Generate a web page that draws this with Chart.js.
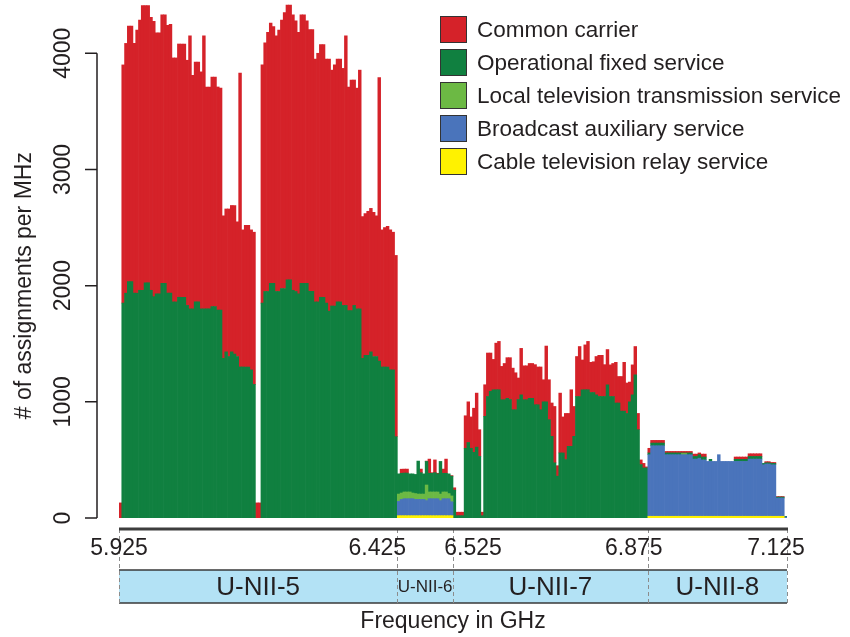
<!DOCTYPE html>
<html>
<head>
<meta charset="utf-8">
<script src="https://cdn.jsdelivr.net/npm/chart.js@4.4.1/dist/chart.umd.min.js"></script>
<style>
    html, body { margin: 0; padding: 0; background: #ffffff; }
</style>
</head>
<body>
<canvas id="chart" width="850" height="637"></canvas>
<script>
// --------------------
// Data: assignments per MHz in 5 MHz bins (5925 .. 7125 MHz)
// --------------------
const BIN_MHZ = 5;
const binStartsMHz = Array.from({ length: 240 }, (_, i) => 5925 + BIN_MHZ * i);

const bandNames = ["U-NII-5", "U-NII-6", "U-NII-7", "U-NII-8"];
const bandEdgesMHz = [5925, 6425, 6525, 6875, 7125];
const yTickValues = [0, 1000, 2000, 3000, 4000];

const seriesNames = [
    "Cable television relay service",
    "Broadcast auxiliary service",
    "Local television transmission service",
    "Operational fixed service",
    "Common carrier"
];
const seriesColors = ["#fff200", "#4a74bb", "#6cb944", "#108040", "#d52229"];

const cableRelay = [
    0, 0, 0, 0, 0, 0, 0, 0, 0, 0, 0, 0, 0, 0, 0, 0, 0, 0, 0, 0,
    0, 0, 0, 0, 0, 0, 0, 0, 0, 0, 0, 0, 0, 0, 0, 0, 0, 0, 0, 0,
    0, 0, 0, 0, 0, 0, 0, 0, 0, 0, 0, 0, 0, 0, 0, 0, 0, 0, 0, 0,
    0, 0, 0, 0, 0, 0, 0, 0, 0, 0, 0, 0, 0, 0, 0, 0, 0, 0, 0, 0,
    0, 0, 0, 0, 0, 0, 0, 0, 0, 0, 0, 0, 0, 0, 0, 0, 0, 0, 0, 0,
    20, 20, 20, 20, 20, 20, 20, 20, 20, 20, 20, 20, 20, 20, 20, 20, 20, 20, 20, 20,
    0, 0, 0, 0, 0, 0, 0, 0, 0, 0, 0, 0, 0, 0, 0, 0, 0, 0, 0, 0,
    0, 0, 0, 0, 0, 0, 0, 0, 0, 0, 0, 0, 0, 0, 0, 0, 0, 0, 0, 0,
    0, 0, 0, 0, 0, 0, 0, 0, 0, 0, 0, 0, 0, 0, 0, 0, 0, 0, 0, 0,
    0, 0, 0, 0, 0, 0, 0, 0, 0, 0, 15, 15, 15, 15, 15, 15, 15, 15, 15, 15,
    15, 15, 15, 15, 15, 15, 15, 15, 15, 15, 15, 15, 15, 15, 15, 15, 15, 15, 15, 15,
    15, 15, 15, 15, 15, 15, 15, 15, 15, 15, 15, 15, 15, 15, 15, 15, 15, 15, 15, 0
];

const broadcastAux = [
    0, 0, 0, 0, 0, 0, 0, 0, 0, 0, 0, 0, 0, 0, 0, 0, 0, 0, 0, 0,
    0, 0, 0, 0, 0, 0, 0, 0, 0, 0, 0, 0, 0, 0, 0, 0, 0, 0, 0, 0,
    0, 0, 0, 0, 0, 0, 0, 0, 0, 0, 0, 0, 0, 0, 0, 0, 0, 0, 0, 0,
    0, 0, 0, 0, 0, 0, 0, 0, 0, 0, 0, 0, 0, 0, 0, 0, 0, 0, 0, 0,
    0, 0, 0, 0, 0, 0, 0, 0, 0, 0, 0, 0, 0, 0, 0, 0, 0, 0, 0, 0,
    123, 140, 146, 146, 146, 146, 140, 140, 140, 140, 130, 146, 146, 146, 146, 130, 146, 146, 146, 120,
    0, 0, 0, 0, 0, 0, 0, 0, 0, 0, 0, 0, 0, 0, 0, 0, 0, 0, 0, 0,
    0, 0, 0, 0, 0, 0, 0, 0, 0, 0, 0, 0, 0, 0, 0, 0, 0, 0, 0, 0,
    0, 0, 0, 0, 0, 0, 0, 0, 0, 0, 0, 0, 0, 0, 0, 0, 0, 0, 0, 0,
    0, 0, 0, 0, 0, 0, 0, 0, 0, 0, 530, 607, 607, 607, 607, 607, 530, 530, 530, 530,
    530, 530, 530, 530, 530, 530, 492, 492, 500, 485, 485, 472, 472, 472, 472, 530, 472, 472, 472, 472,
    472, 472, 472, 472, 472, 472, 492, 492, 492, 492, 492, 443, 450, 450, 443, 443, 157, 157, 157, 8
];

const localTv = [
    0, 0, 0, 0, 0, 0, 0, 0, 0, 0, 0, 0, 0, 0, 0, 0, 0, 0, 0, 0,
    0, 0, 0, 0, 0, 0, 0, 0, 0, 0, 0, 0, 0, 0, 0, 0, 0, 0, 0, 0,
    0, 0, 0, 0, 0, 0, 0, 0, 0, 0, 0, 0, 0, 0, 0, 0, 0, 0, 0, 0,
    0, 0, 0, 0, 0, 0, 0, 0, 0, 0, 0, 0, 0, 0, 0, 0, 0, 0, 0, 0,
    0, 0, 0, 0, 0, 0, 0, 0, 0, 0, 0, 0, 0, 0, 0, 0, 0, 0, 0, 0,
    63, 55, 58, 58, 58, 49, 50, 46, 46, 46, 134, 58, 58, 58, 58, 56, 58, 58, 44, 50,
    0, 0, 0, 0, 0, 0, 0, 0, 0, 0, 0, 0, 0, 0, 0, 0, 0, 0, 0, 0,
    0, 0, 0, 0, 0, 0, 0, 0, 0, 0, 0, 0, 0, 0, 0, 0, 0, 0, 0, 0,
    0, 0, 0, 0, 0, 0, 0, 0, 0, 0, 0, 0, 0, 0, 0, 0, 0, 0, 0, 0,
    0, 0, 0, 0, 0, 0, 0, 0, 0, 0, 0, 0, 0, 0, 0, 0, 0, 0, 0, 0,
    0, 0, 10, 10, 0, 0, 0, 0, 0, 0, 0, 0, 0, 0, 0, 0, 0, 0, 0, 0,
    0, 0, 0, 0, 0, 0, 0, 0, 0, 0, 0, 0, 0, 0, 0, 0, 0, 0, 0, 0
];

const fixedService = [
    0, 1850, 1935, 2035, 2035, 1935, 1935, 1960, 1960, 2025, 2025, 1960, 1905, 1930, 1930, 2020, 2020, 1935, 1935, 1860,
    1860, 1900, 1900, 1900, 1830, 1800, 1800, 1860, 1860, 1800, 1800, 1800, 1800, 1820, 1820, 1790, 1790, 1375, 1430, 1390,
    1430, 1410, 1390, 1300, 1300, 1300, 1300, 1275, 1150, 0, 0, 1850, 1950, 1950, 2020, 2020, 1950, 1950, 1975, 1975,
    2050, 2050, 1960, 1950, 1930, 2020, 2020, 2020, 1950, 1950, 1860, 1860, 1900, 1900, 1850, 1780, 1825, 1825, 1860, 1860,
    1830, 1830, 1785, 1785, 1830, 1800, 1800, 1375, 1400, 1400, 1430, 1390, 1390, 1350, 1300, 1300, 1300, 1275, 1275, 700,
    174, 170, 163, 163, 156, 165, 165, 284, 184, 174, 203, 161, 161, 166, 156, 281, 161, 161, 170, 170,
    240, 20, 20, 20, 600, 650, 600, 565, 610, 530, 20, 875, 1046, 1090, 1104, 1104, 1104, 1018, 1018, 1030,
    1020, 932, 932, 1020, 1060, 1018, 1018, 1030, 1030, 975, 975, 932, 1000, 1000, 846, 703, 475, 360, 560, 560,
    503, 617, 617, 703, 1046, 1046, 1104, 1104, 1104, 1080, 1080, 1060, 1046, 1046, 1046, 1147, 1046, 1046, 990, 990,
    920, 920, 900, 1000, 1060, 1233, 760, 460, 431, 431, 15, 23, 23, 23, 23, 23, 15, 15, 15, 15,
    15, 15, 5, 5, 15, 15, 23, 23, 30, 25, 25, 0, 18, 0, 0, 0, 0, 0, 0, 0,
    0, 18, 18, 18, 18, 18, 23, 23, 23, 23, 23, 12, 10, 10, 12, 12, 8, 8, 8, 6
];

const commonCarrier = [
    130, 2050, 2150, 2200, 2200, 2150, 2265, 2325, 2450, 2385, 2385, 2350, 2370, 2245, 2245, 2310, 2310, 2305, 2315, 2100,
    2100, 2180, 2180, 2180, 2110, 2350, 2010, 2065, 2065, 2040, 2350, 1910, 1910, 1975, 1975, 1920, 1910, 1225, 1230, 1270,
    1260, 1280, 1160, 2530, 1180, 1220, 1220, 1205, 1310, 130, 130, 2050, 2140, 2230, 2240, 2210, 2200, 2250, 2310, 2375,
    2365, 2365, 2370, 2330, 2250, 2310, 2310, 2260, 2255, 2255, 2090, 2140, 2175, 2175, 2100, 2170, 2030, 2075, 2090, 2090,
    2040, 2320, 1925, 1985, 1940, 1900, 2055, 1220, 1220, 1240, 1235, 1240, 1210, 2440, 1180, 1200, 1210, 1205, 1185, 1560,
    0, 35, 34, 34, 0, 0, 0, 0, 31, 0, 3, 122, 5, 110, 5, 0, 36, 122, 0, 5,
    20, 30, 30, 30, 280, 350, 270, 380, 465, 230, 30, 272, 374, 330, 261, 401, 416, 287, 312, 350,
    360, 358, 318, 185, 400, 292, 292, 300, 300, 345, 325, 368, 190, 480, 344, 287, 485, 90, 515, 310,
    397, 283, 487, 257, 344, 430, 256, 386, 416, 260, 265, 330, 354, 354, 274, 303, 272, 284, 350, 228,
    298, 420, 262, 170, 258, 243, 140, 40, 39, 9, 40, 23, 23, 23, 23, 23, 13, 13, 13, 13,
    13, 13, 13, 13, 13, 13, 20, 20, 15, 25, 25, 0, 0, 0, 0, 0, 0, 0, 0, 0,
    0, 20, 20, 20, 20, 20, 23, 23, 23, 23, 23, 0, 10, 10, 8, 8, 5, 5, 5, 0
];

const seriesValues = [cableRelay, broadcastAux, localTv, fixedService, commonCarrier];

const FONT = '"Liberation Sans", Arial, Helvetica, sans-serif';
const INK = "#231f20";

// tick labels in the figure sit a little off their dashed lines
const tickLabelNudge = [0, -20, 20, -14, -11];

// --------------------
// Axes, band strip and legend drawn around the plot
// --------------------
const frameDecor = {
    id: "frameDecor",
    afterDraw(chart) {
        const { ctx, chartArea } = chart;
        const x = chart.scales.x;
        const y = chart.scales.y;
        const base = chartArea.bottom;

        ctx.save();
        ctx.fillStyle = INK;
        ctx.strokeStyle = INK;

        // ---- y axis ----
        const axisX = chartArea.left - 22;
        ctx.lineWidth = 1.5;
        ctx.beginPath();
        ctx.moveTo(axisX, y.getPixelForValue(0));
        ctx.lineTo(axisX, y.getPixelForValue(4000));
        yTickValues.forEach(v => {
            const py = y.getPixelForValue(v);
            ctx.moveTo(axisX - 12, py);
            ctx.lineTo(axisX, py);
        });
        ctx.stroke();

        ctx.font = "23px " + FONT;
        ctx.textAlign = "center";
        ctx.textBaseline = "middle";
        yTickValues.forEach(v => {
            ctx.save();
            ctx.translate(axisX - 33, y.getPixelForValue(v));
            ctx.rotate(-Math.PI / 2);
            ctx.fillText(String(v), 0, 0);
            ctx.restore();
        });

        ctx.save();
        ctx.translate(25, (y.getPixelForValue(0) + y.getPixelForValue(4000)) / 2);
        ctx.rotate(-Math.PI / 2);
        ctx.fillText("# of assignments per MHz", 0, 0);
        ctx.restore();

        // ---- band strip ----
        const stripTop = base + 52;
        const stripBottom = base + 85;
        const left = x.getPixelForValue(bandEdgesMHz[0]);
        const right = x.getPixelForValue(bandEdgesMHz[bandEdgesMHz.length - 1]);

        ctx.fillStyle = "#b3e2f5";
        ctx.fillRect(left, stripTop, right - left, stripBottom - stripTop);
        ctx.strokeStyle = "#3a3a3a";
        ctx.lineWidth = 1.5;
        ctx.beginPath();
        ctx.moveTo(left, stripTop);
        ctx.lineTo(right, stripTop);
        ctx.moveTo(left, stripBottom);
        ctx.lineTo(right, stripBottom);
        ctx.stroke();

        ctx.fillStyle = INK;
        bandNames.forEach((name, i) => {
            const a = x.getPixelForValue(bandEdgesMHz[i]);
            const b = x.getPixelForValue(bandEdgesMHz[i + 1]);
            ctx.font = (b - a < 80 ? "17px " : "26px ") + FONT;
            ctx.fillText(name, (a + b) / 2, (stripTop + stripBottom) / 2 + 1);
        });

        // ---- x axis line, dashed band edges, tick labels ----
        const axisY = base + 11;
        ctx.strokeStyle = "#8c8c8c";
        ctx.lineWidth = 1;
        ctx.setLineDash([4, 3]);
        ctx.beginPath();
        bandEdgesMHz.forEach(v => {
            const px = Math.round(x.getPixelForValue(v)) + 0.5;
            ctx.moveTo(px, axisY);
            ctx.lineTo(px, stripBottom);
        });
        ctx.stroke();
        ctx.setLineDash([]);

        ctx.strokeStyle = "#3d3d3d";
        ctx.lineWidth = 3;
        ctx.beginPath();
        ctx.moveTo(left, axisY);
        ctx.lineTo(right + 1, axisY);
        ctx.stroke();

        ctx.font = "23px " + FONT;
        bandEdgesMHz.forEach((v, i) => {
            const label = (v / 1000).toFixed(3);
            ctx.fillText(label, x.getPixelForValue(v) + tickLabelNudge[i], axisY + 20);
        });

        ctx.fillText("Frequency in GHz", (chartArea.left + chartArea.right) / 2, base + 104);

        // ---- legend (top series first) ----
        ctx.textAlign = "left";
        ctx.font = "22.5px " + FONT;
        const boxX = 440;
        const boxSize = 27;
        const rowH = 33;
        const sets = chart.data.datasets.slice().reverse();
        sets.forEach((ds, i) => {
            const top = 16 + i * rowH;
            ctx.fillStyle = ds.backgroundColor;
            ctx.fillRect(boxX, top, boxSize, boxSize);
            ctx.strokeStyle = "#333333";
            ctx.lineWidth = 1;
            ctx.strokeRect(boxX + 0.5, top + 0.5, boxSize - 1, boxSize - 1);
            ctx.fillStyle = INK;
            ctx.fillText(ds.label, boxX + 37, top + boxSize / 2 + 1);
        });

        ctx.restore();
    }
};

// --------------------
// Build chart
// --------------------
const datasets = seriesNames.map((name, s) => ({
    label: name,
    data: binStartsMHz.map((f, i) => ({
        x: f + BIN_MHZ / 2,
        y: seriesValues[s][i] === 0 ? null : seriesValues[s][i]
    })),
    backgroundColor: seriesColors[s],
    borderWidth: 0,
    barPercentage: 1.0,
    categoryPercentage: 1.0
}));

const ctx = document.getElementById("chart").getContext("2d");

new Chart(ctx, {
    type: "bar",
    data: { datasets },
    options: {
        responsive: false,
        animation: false,
        devicePixelRatio: 1,
        layout: {
            padding: { left: 119, right: 63, top: 1, bottom: 119 }
        },
        plugins: {
            legend: { display: false },
            tooltip: { enabled: false }
        },
        scales: {
            x: {
                type: "linear",
                stacked: true,
                offset: false,
                min: 5925,
                max: 7125,
                display: false,
                grid: { offset: false }
            },
            y: {
                stacked: true,
                min: 0,
                max: 4450,
                display: false
            }
        }
    },
    plugins: [frameDecor]
});
</script>
</body>
</html>
